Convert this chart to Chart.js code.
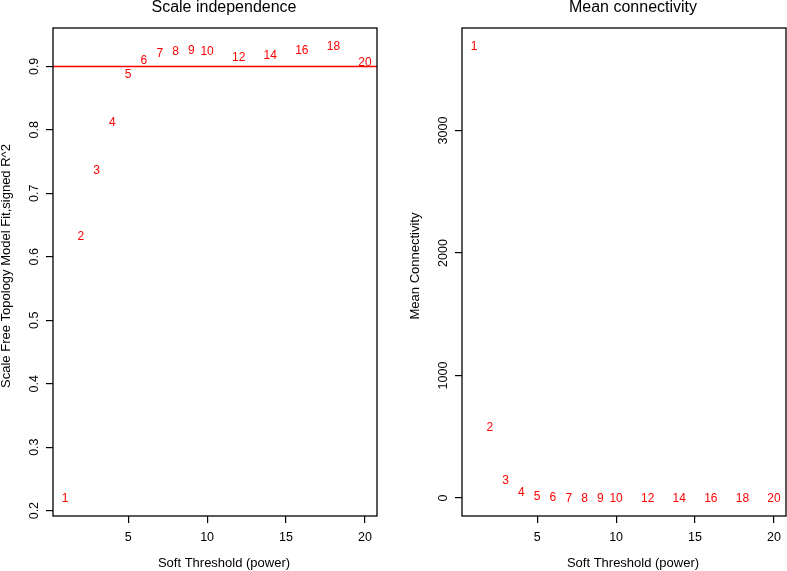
<!DOCTYPE html>
<html>
<head>
<meta charset="utf-8">
<script src="https://cdn.jsdelivr.net/npm/chart.js@4.4.1/dist/chart.umd.min.js"></script>
<style>
  body { margin: 0; background: #fff; }
  canvas { position: absolute; top: 0; }
  #fitChart { left: 0; }
  #connChart { left: 393px; }
</style>
</head>
<body>
<canvas id="fitChart" width="393" height="571"></canvas>
<canvas id="connChart" width="394" height="571"></canvas>
<script>
// soft-threshold powers tested
const powers = [1, 2, 3, 4, 5, 6, 7, 8, 9, 10, 12, 14, 16, 18, 20];
// signed R^2 of the scale free fit
const scaleFitR2 = [0.220, 0.633, 0.738, 0.813, 0.888, 0.910, 0.921, 0.925, 0.926, 0.925, 0.916, 0.919, 0.926, 0.932, 0.907];
// mean connectivity
const meanConn = [3690, 578, 150, 52, 22, 11, 6, 4, 2.5, 1.8, 1, 0.6, 0.4, 0.3, 0.2];

const xTicks = [5, 10, 15, 20];
const fitTicks = [0.2, 0.3, 0.4, 0.5, 0.6, 0.7, 0.8, 0.9];
const connTicks = [0, 1000, 2000, 3000];
const cutoff = 0.9;

const FONT = '"Liberation Sans", Arial, Helvetica, sans-serif';

// R style axis range: data range padded 4% each side
function rRange(vals) {
  var lo = Math.min.apply(null, vals), hi = Math.max.apply(null, vals);
  var d = (hi - lo) * 0.04;
  return [lo - d, hi + d];
}

var rPlot = {
  id: 'rPlot',
  afterDraw: function (chart, args, o) {
    var ctx = chart.ctx, a = chart.chartArea;
    var x = chart.scales.x, y = chart.scales.y;
    ctx.save();

    // point labels (text instead of symbols)
    ctx.fillStyle = '#ff0000';
    ctx.font = '12px ' + FONT;
    ctx.textAlign = 'center';
    ctx.textBaseline = 'middle';
    chart.getDatasetMeta(0).data.forEach(function (pt, i) {
      ctx.fillText(String(powers[i]), pt.x, pt.y + 1);
    });

    // cutoff line
    if (o.hline != null) {
      var hy = y.getPixelForValue(o.hline);
      ctx.strokeStyle = '#ff0000';
      ctx.lineWidth = 1.5;
      ctx.beginPath();
      ctx.moveTo(a.left, hy);
      ctx.lineTo(a.right, hy);
      ctx.stroke();
    }

    // box
    ctx.strokeStyle = '#000';
    ctx.lineWidth = 1.3;
    ctx.strokeRect(a.left, a.top, a.right - a.left, a.bottom - a.top);

    // tick labels
    ctx.fillStyle = '#000';
    ctx.font = '12.5px ' + FONT;
    ctx.textBaseline = 'alphabetic';
    xTicks.forEach(function (v) {
      ctx.fillText(String(v), x.getPixelForValue(v), a.bottom + 25);
    });
    o.yTicks.forEach(function (v) {
      ctx.save();
      ctx.translate(a.left - 15, y.getPixelForValue(v));
      ctx.rotate(-Math.PI / 2);
      ctx.fillText(String(v), 0, 0);
      ctx.restore();
    });

    // titles
    var cx = (a.left + a.right) / 2;
    ctx.font = '16px ' + FONT;
    ctx.fillText(o.title, cx + 9, 12);
    ctx.font = '13px ' + FONT;
    ctx.fillText('Soft Threshold (power)', cx + 9, 567);
    ctx.save();
    ctx.translate(a.left - 43.5, (a.top + a.bottom) / 2 - 6);
    ctx.rotate(-Math.PI / 2);
    ctx.fillText(o.yTitle, 0, 0);
    ctx.restore();

    ctx.restore();
  }
};

function makeChart(id, vals, yTicks, opts) {
  var xr = rRange(powers), yr = rRange(vals);
  var pts = powers.map(function (p, i) { return { x: p, y: vals[i] }; });
  return new Chart(document.getElementById(id), {
    type: 'scatter',
    data: { datasets: [{ data: pts, pointRadius: 0, pointHoverRadius: 0 }] },
    options: {
      responsive: false,
      animation: false,
      events: [],
      layout: { padding: { top: 28, right: opts.padRight, bottom: 0, left: 0 } },
      plugins: {
        legend: { display: false },
        tooltip: { enabled: false },
        rPlot: { title: opts.title, yTitle: opts.yTitle, yTicks: yTicks, hline: opts.hline }
      },
      scales: {
        x: {
          type: 'linear', min: xr[0], max: xr[1],
          afterBuildTicks: function (s) { s.ticks = xTicks.map(function (v) { return { value: v }; }); },
          afterFit: function (s) { s.height = 55; },
          ticks: { display: false },
          border: { display: false },
          grid: { drawOnChartArea: false, drawTicks: true, tickLength: 7, color: '#000', lineWidth: 1.2 }
        },
        y: {
          type: 'linear', min: yr[0], max: yr[1],
          afterBuildTicks: function (s) { s.ticks = yTicks.map(function (v) { return { value: v }; }); },
          afterFit: function (s) { s.width = opts.axisWidth; },
          ticks: { display: false },
          border: { display: false },
          grid: { drawOnChartArea: false, drawTicks: true, tickLength: 7, color: '#000', lineWidth: 1.2 }
        }
      }
    },
    plugins: [rPlot]
  });
}

makeChart('fitChart', scaleFitR2, fitTicks, {
  title: 'Scale independence',
  yTitle: 'Scale Free Topology Model Fit,signed R^2',
  hline: cutoff, axisWidth: 53, padRight: 16
});
makeChart('connChart', meanConn, connTicks, {
  title: 'Mean connectivity',
  yTitle: 'Mean Connectivity',
  hline: null, axisWidth: 69, padRight: 1
});
</script>
</body>
</html>
